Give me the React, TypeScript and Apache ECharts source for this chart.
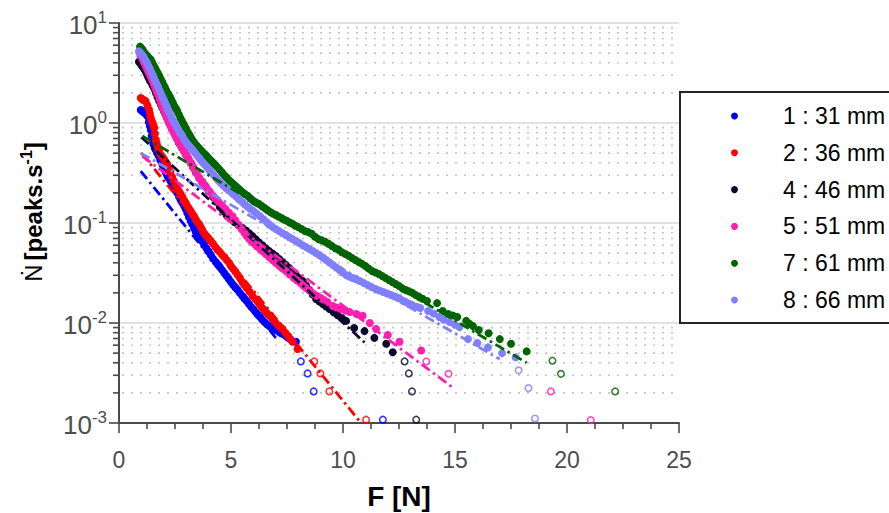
import React, { useEffect, useRef } from "react";
import * as echarts from "echarts";

const FONT = '"Liberation Sans", Arial, Helvetica, sans-serif';

const seriesNames = ["1 : 31 mm", "2 : 36 mm", "4 : 46 mm", "5 : 51 mm", "7 : 61 mm", "8 : 66 mm"];
const seriesColors = ["#0000ff", "#ff0000", "#0a0a30", "#ff1fae", "#006400", "#8080ff"];

// [F (N), Ndot (peaks/s)]
const s1 = [
  [0.97, 1.35], [1.05, 1.31], [1.12, 1.27], [1.2, 1.22], [1.27, 1.17], [1.33, 1.02], [1.38, 0.93], [1.42, 0.85],
  [1.46, 0.74], [1.49, 0.68], [1.53, 0.63], [1.56, 0.6], [1.6, 0.56], [1.64, 0.54], [1.7, 0.5], [1.77, 0.47],
  [1.84, 0.43], [1.9, 0.4], [1.97, 0.37], [2.03, 0.34], [2.1, 0.315], [2.16, 0.295], [2.23, 0.28], [2.3, 0.263],
  [2.38, 0.245], [2.45, 0.229], [2.52, 0.214], [2.6, 0.2], [2.68, 0.184], [2.75, 0.17], [2.83, 0.159], [2.91, 0.148],
  [2.98, 0.137], [3.05, 0.126], [3.12, 0.115], [3.2, 0.105], [3.27, 0.097], [3.35, 0.089], [3.42, 0.082], [3.5, 0.076],
  [3.6, 0.071], [3.7, 0.066], [3.8, 0.061], [3.9, 0.056], [4.0, 0.052], [4.1, 0.0479], [4.2, 0.044], [4.32, 0.0407],
  [4.41, 0.0385], [4.5, 0.0363], [4.6, 0.034], [4.7, 0.0316], [4.8, 0.0295], [4.9, 0.0275], [5.0, 0.0257], [5.1, 0.024],
  [5.2, 0.0226], [5.3, 0.0214], [5.4, 0.0199], [5.51, 0.0186], [5.6, 0.0176], [5.7, 0.0166], [5.8, 0.0155], [5.9, 0.0145],
  [6.0, 0.0137], [6.1, 0.0129], [6.2, 0.0121], [6.3, 0.0115], [6.4, 0.0108], [6.5, 0.0102], [6.6, 0.0097], [6.71, 0.0093],
  [6.8, 0.009], [6.9, 0.0087], [7.0, 0.0085], [7.1, 0.0083], [7.2, 0.008], [7.3, 0.0078], [7.45, 0.0074], [7.55, 0.0071],
  [7.65, 0.0069], [7.9, 0.0065],
];
const s2 = [
  [0.97, 1.78], [1.03, 1.74], [1.08, 1.7], [1.14, 1.68], [1.19, 1.65], [1.27, 1.5], [1.34, 1.36], [1.38, 1.24],
  [1.42, 1.12], [1.46, 1.05], [1.5, 1.0], [1.54, 0.94], [1.57, 0.89], [1.6, 0.78], [1.64, 0.68], [1.68, 0.63],
  [1.71, 0.585], [1.78, 0.53], [1.86, 0.483], [1.93, 0.46], [2.01, 0.437], [2.08, 0.41], [2.15, 0.39], [2.22, 0.355],
  [2.3, 0.324], [2.37, 0.29], [2.45, 0.263], [2.53, 0.24], [2.61, 0.219], [2.68, 0.207], [2.75, 0.195], [2.83, 0.182],
  [2.9, 0.17], [2.98, 0.159], [3.05, 0.148], [3.12, 0.14], [3.2, 0.132], [3.27, 0.124], [3.35, 0.117], [3.42, 0.109],
  [3.5, 0.102], [3.58, 0.097], [3.65, 0.091], [3.72, 0.085], [3.8, 0.079], [3.88, 0.075], [3.95, 0.072], [4.02, 0.069],
  [4.1, 0.066], [4.2, 0.062], [4.3, 0.0575], [4.4, 0.054], [4.5, 0.0513], [4.6, 0.048], [4.7, 0.0457], [4.81, 0.0425],
  [4.92, 0.0398], [5.0, 0.037], [5.1, 0.0347], [5.2, 0.0325], [5.3, 0.0302], [5.4, 0.028], [5.5, 0.0257], [5.6, 0.024],
  [5.7, 0.0224], [5.83, 0.0205], [5.96, 0.0186], [6.08, 0.0174], [6.2, 0.0162], [6.3, 0.0151], [6.4, 0.0141], [6.5, 0.0133],
  [6.6, 0.0126], [6.72, 0.0118], [6.85, 0.011], [6.97, 0.0102], [7.1, 0.0095], [7.2, 0.0091], [7.3, 0.0087], [7.42, 0.008],
  [7.55, 0.0074], [7.65, 0.0069], [7.75, 0.0065], [7.97, 0.0055],
];
const s4 = [
  [0.89, 4.1], [0.95, 3.95], [1.0, 3.8], [1.05, 3.68], [1.1, 3.55], [1.15, 3.4], [1.2, 3.24], [1.26, 3.02],
  [1.32, 2.82], [1.38, 2.66], [1.45, 2.51], [1.51, 2.35], [1.58, 2.19], [1.65, 1.99], [1.72, 1.82], [1.79, 1.68],
  [1.86, 1.55], [1.93, 1.43], [2.0, 1.32], [2.07, 1.22], [2.15, 1.12], [2.22, 1.03], [2.3, 0.955], [2.37, 0.88],
  [2.45, 0.81], [2.52, 0.75], [2.6, 0.69], [2.67, 0.64], [2.75, 0.6], [2.82, 0.56], [2.9, 0.525], [3.0, 0.48],
  [3.1, 0.437], [3.2, 0.4], [3.3, 0.363], [3.44, 0.32], [3.58, 0.282], [3.71, 0.258], [3.85, 0.234], [4.02, 0.207],
  [4.2, 0.182], [4.35, 0.163], [4.5, 0.145], [4.65, 0.132], [4.8, 0.12], [4.97, 0.111], [5.15, 0.102], [5.33, 0.095],
  [5.51, 0.089], [5.66, 0.084], [5.81, 0.079], [5.95, 0.074], [6.1, 0.069], [6.25, 0.064], [6.4, 0.06], [6.55, 0.056],
  [6.7, 0.0525], [6.85, 0.0495], [7.0, 0.0468], [7.15, 0.0437], [7.3, 0.0407], [7.45, 0.038], [7.6, 0.0355], [7.75, 0.0327],
  [7.9, 0.03], [8.05, 0.028], [8.2, 0.0263], [8.35, 0.0237], [8.5, 0.0214], [8.65, 0.0193], [8.8, 0.0174], [8.95, 0.0164],
  [9.1, 0.0155], [9.25, 0.0146], [9.4, 0.0138], [9.58, 0.0128], [9.75, 0.012], [9.95, 0.0112], [10.14, 0.0105], [10.5, 0.0089],
  [10.96, 0.0083], [11.4, 0.0071], [11.93, 0.0062], [12.22, 0.0051],
];
const s5 = [
  [0.95, 4.8], [1.0, 4.6], [1.05, 4.37], [1.1, 4.12], [1.15, 3.9], [1.21, 3.62], [1.27, 3.39], [1.33, 3.2],
  [1.38, 3.02], [1.44, 2.82], [1.5, 2.63], [1.56, 2.42], [1.62, 2.24], [1.68, 2.05], [1.75, 1.9], [1.81, 1.74],
  [1.88, 1.58], [1.94, 1.46], [2.0, 1.35], [2.06, 1.25], [2.12, 1.15], [2.18, 1.07], [2.24, 1.0], [2.3, 0.93],
  [2.36, 0.87], [2.42, 0.82], [2.48, 0.78], [2.54, 0.73], [2.6, 0.69], [2.67, 0.645], [2.75, 0.6], [2.82, 0.56],
  [2.9, 0.525], [2.97, 0.49], [3.05, 0.457], [3.12, 0.43], [3.2, 0.4], [3.29, 0.37], [3.38, 0.34], [3.48, 0.31],
  [3.58, 0.282], [3.68, 0.263], [3.78, 0.245], [3.88, 0.229], [3.98, 0.214], [4.09, 0.2], [4.2, 0.186], [4.32, 0.174],
  [4.45, 0.162], [4.6, 0.15], [4.75, 0.138], [4.91, 0.127], [5.07, 0.117], [5.2, 0.106], [5.35, 0.0955], [5.47, 0.087],
  [5.6, 0.0794], [5.7, 0.074], [5.81, 0.069], [5.93, 0.065], [6.05, 0.0617], [6.17, 0.058], [6.3, 0.055], [6.42, 0.052],
  [6.55, 0.049], [6.7, 0.0458], [6.85, 0.0427], [7.0, 0.0398], [7.16, 0.0372], [7.3, 0.035], [7.45, 0.0331], [7.62, 0.0305],
  [7.8, 0.0282], [7.95, 0.0266], [8.1, 0.0251], [8.22, 0.0237], [8.35, 0.0224], [8.52, 0.021], [8.7, 0.0195], [8.85, 0.0186],
  [9.0, 0.0178], [9.15, 0.017], [9.3, 0.0162], [9.54, 0.0148], [9.7, 0.0143], [9.9, 0.0138], [10.1, 0.0133], [10.3, 0.0129],
  [10.6, 0.0123], [10.88, 0.0118], [11.2, 0.01], [11.48, 0.0087], [12.0, 0.0076], [12.52, 0.0065], [13.49, 0.0053],
];
const s7 = [
  [0.94, 5.8], [1.0, 5.6], [1.05, 5.4], [1.1, 5.2], [1.15, 5.0], [1.22, 4.8], [1.28, 4.6], [1.35, 4.45],
  [1.42, 4.3], [1.48, 4.02], [1.55, 3.76], [1.62, 3.52], [1.68, 3.3], [1.74, 3.12], [1.8, 2.95], [1.86, 2.75],
  [1.93, 2.57], [1.99, 2.4], [2.05, 2.26], [2.12, 2.1], [2.2, 1.95], [2.27, 1.83], [2.33, 1.72], [2.4, 1.6],
  [2.47, 1.48], [2.54, 1.4], [2.6, 1.32], [2.67, 1.22], [2.74, 1.12], [2.81, 1.05], [2.88, 0.98], [2.94, 0.92],
  [3.0, 0.87], [3.07, 0.81], [3.15, 0.76], [3.22, 0.71], [3.3, 0.66], [3.37, 0.63], [3.45, 0.6], [3.52, 0.575],
  [3.6, 0.55], [3.69, 0.525], [3.78, 0.5], [3.87, 0.478], [3.95, 0.457], [4.03, 0.437], [4.12, 0.417], [4.21, 0.398],
  [4.3, 0.38], [4.4, 0.36], [4.5, 0.34], [4.6, 0.32], [4.7, 0.3], [4.8, 0.285], [4.9, 0.27], [5.0, 0.257],
  [5.1, 0.245], [5.2, 0.234], [5.3, 0.224], [5.4, 0.214], [5.5, 0.204], [5.62, 0.195], [5.75, 0.186], [5.87, 0.176],
  [6.0, 0.166], [6.12, 0.16], [6.25, 0.155], [6.37, 0.148], [6.5, 0.141], [6.62, 0.135], [6.75, 0.129], [6.87, 0.124],
  [7.0, 0.12], [7.12, 0.116], [7.25, 0.112], [7.37, 0.108], [7.5, 0.105], [7.62, 0.101], [7.75, 0.098], [7.87, 0.094],
  [8.0, 0.091], [8.15, 0.087], [8.3, 0.083], [8.45, 0.081], [8.6, 0.078], [8.75, 0.073], [8.9, 0.069], [9.05, 0.067],
  [9.2, 0.065], [9.35, 0.062], [9.5, 0.059], [9.65, 0.056], [9.8, 0.054], [9.95, 0.051], [10.1, 0.049], [10.25, 0.047],
  [10.4, 0.0447], [10.55, 0.0427], [10.7, 0.0407], [10.85, 0.039], [11.0, 0.0372], [11.15, 0.035], [11.3, 0.0331], [11.45, 0.032],
  [11.6, 0.0309], [11.75, 0.0295], [11.9, 0.0282], [12.05, 0.0269], [12.2, 0.0257], [12.35, 0.0245], [12.5, 0.0234], [12.65, 0.0222],
  [12.8, 0.0214], [12.95, 0.0207], [13.1, 0.02], [13.25, 0.019], [13.4, 0.0182], [13.55, 0.0175], [13.75, 0.0166], [14.2, 0.0158],
  [14.45, 0.0132], [14.7, 0.0123], [14.9, 0.0119], [15.1, 0.0115], [15.5, 0.0105], [15.65, 0.0098], [15.8, 0.0093], [16.06, 0.0085],
  [16.5, 0.0079], [17.0, 0.0069], [17.5, 0.0062], [18.2, 0.0052],
];
const s8 = [
  [0.89, 5.2], [0.95, 5.05], [1.0, 4.9], [1.06, 4.7], [1.12, 4.47], [1.18, 4.22], [1.25, 3.98], [1.31, 3.72],
  [1.38, 3.47], [1.44, 3.24], [1.5, 3.02], [1.56, 2.82], [1.62, 2.63], [1.68, 2.45], [1.75, 2.29], [1.81, 2.11],
  [1.88, 1.95], [1.94, 1.82], [2.0, 1.7], [2.06, 1.58], [2.12, 1.48], [2.18, 1.36], [2.25, 1.26], [2.31, 1.18],
  [2.37, 1.1], [2.43, 1.04], [2.5, 0.98], [2.57, 0.91], [2.65, 0.85], [2.72, 0.8], [2.8, 0.76], [2.87, 0.71],
  [2.95, 0.66], [3.02, 0.63], [3.1, 0.6], [3.17, 0.575], [3.25, 0.55], [3.32, 0.525], [3.4, 0.5], [3.49, 0.472],
  [3.58, 0.447], [3.66, 0.422], [3.75, 0.4], [3.85, 0.377], [3.95, 0.355], [4.05, 0.335], [4.15, 0.316], [4.25, 0.298],
  [4.35, 0.28], [4.45, 0.265], [4.55, 0.25], [4.66, 0.237], [4.77, 0.224], [4.88, 0.214], [5.0, 0.204], [5.12, 0.193],
  [5.25, 0.182], [5.37, 0.172], [5.5, 0.162], [5.62, 0.153], [5.75, 0.145], [5.87, 0.138], [6.0, 0.132], [6.15, 0.124],
  [6.3, 0.117], [6.45, 0.109], [6.6, 0.102], [6.73, 0.096], [6.86, 0.091], [7.0, 0.087], [7.15, 0.083], [7.3, 0.079],
  [7.45, 0.076], [7.6, 0.072], [7.75, 0.069], [7.9, 0.066], [8.05, 0.063], [8.2, 0.06], [8.35, 0.0575], [8.5, 0.055],
  [8.65, 0.0525], [8.8, 0.05], [8.94, 0.0479], [9.1, 0.0452], [9.25, 0.0427], [9.4, 0.0402], [9.55, 0.038], [9.7, 0.0358],
  [9.85, 0.0339], [10.0, 0.0318], [10.15, 0.03], [10.3, 0.029], [10.43, 0.0282], [10.6, 0.0272], [10.75, 0.0263], [10.93, 0.0251],
  [11.1, 0.024], [11.27, 0.0229], [11.45, 0.0219], [11.62, 0.0211], [11.8, 0.0204], [11.97, 0.0197], [12.15, 0.019], [12.32, 0.0184],
  [12.5, 0.0178], [12.67, 0.0168], [12.8, 0.0162], [12.95, 0.0156], [13.1, 0.0151], [13.3, 0.0145], [13.45, 0.0141], [13.8, 0.0132],
  [14.05, 0.0124], [14.3, 0.0115], [14.5, 0.0108], [14.76, 0.0102], [15.0, 0.0096], [15.2, 0.0091], [15.58, 0.0069], [16.0, 0.0063],
  [16.47, 0.0057], [17.1, 0.005], [17.71, 0.00453],
];

// single-event tail points (open circles)
const t1 = [[8.12, 0.00413], [8.42, 0.00313], [8.69, 0.00207], [11.78, 0.00108]];
const t2 = [[8.72, 0.00413], [8.99, 0.00313], [9.39, 0.00207], [11.03, 0.00108]];
const t4 = [[12.75, 0.00413], [12.94, 0.00313], [13.08, 0.00207], [13.27, 0.00108]];
const t5 = [[13.72, 0.00413], [14.71, 0.0031], [19.28, 0.00207], [21.06, 0.00107]];
const t7 = [[19.35, 0.0042], [19.73, 0.0031], [22.15, 0.00207]];
const t8 = [[17.84, 0.00336], [18.28, 0.00223], [18.57, 0.00111]];

// fitted exponential laws (end points)
const f1 = [[0.97, 0.33], [7.0, 0.0071]];
const f2 = [[1.0, 0.5], [10.73, 0.00105]];
const f4 = [[1.0, 0.72], [10.96, 0.0064]];
const f5 = [[1.04, 0.466], [14.95, 0.00222]];
const f7 = [[1.04, 0.74], [18.2, 0.004]];
const f8 = [[0.97, 0.5], [17.0, 0.00435]];

const xTicks = [0, 5, 10, 15, 20, 25];
const yMinorTicks = [
  0.002, 0.003, 0.004, 0.005, 0.006, 0.007, 0.008, 0.009,
  0.02, 0.03, 0.04, 0.05, 0.06, 0.07, 0.08, 0.09,
  0.2, 0.3, 0.4, 0.5, 0.6, 0.7, 0.8, 0.9,
  2, 3, 4, 5, 6, 7, 8, 9,
];

const mainData = [s1, s2, s4, s5, s7, s8];
const tailData = [t1, t2, t4, t5, t7, t8];
const fitData = [f1, f2, f4, f5, f7, f8];

const AXIS_COLOR = "#4a4a4a";
const LABEL_COLOR = "#4d4d4d";

export default function App() {
  const ref = useRef<HTMLDivElement>(null);
  useEffect(() => {
    if (!ref.current) return;
    const chart = echarts.init(ref.current, undefined, { renderer: "svg" });
    const series: any[] = [];
    series.push({
      name: "minorGrid",
      type: "custom",
      clip: false,
      z: 1,
      silent: true,
      data: yMinorTicks.map((v) => [0, v]),
      encode: { x: 0, y: 1 },
      renderItem: (params: any, api: any) => {
        const v = api.value(1);
        const p0 = api.coord([xTicks[0], v]);
        const p1 = api.coord([xTicks[xTicks.length - 1], v]);
        return {
          type: "group",
          children: [
            {
              type: "line",
              shape: { x1: p0[0] + 3, y1: p0[1], x2: p1[0], y2: p1[1] },
              style: { stroke: "#c4c4c4", lineWidth: 1.6, lineDash: [2, 7] },
            },
            {
              type: "line",
              shape: { x1: p0[0] - 6, y1: p0[1], x2: p0[0], y2: p0[1] },
              style: { stroke: AXIS_COLOR, lineWidth: 1.6 },
            },
          ],
        };
      },
    });
    mainData.forEach((d, i) => {
      series.push({
        name: seriesNames[i],
        type: "scatter",
        data: d,
        symbol: "circle",
        symbolSize: 8,
        itemStyle: { color: seriesColors[i], opacity: 1 },
        z: 3,
      });
    });
    tailData.forEach((d, i) => {
      series.push({
        name: seriesNames[i] + " tail",
        type: "scatter",
        data: d,
        symbol: "circle",
        symbolSize: 6.5,
        itemStyle: { color: "rgba(255,255,255,0)", borderColor: seriesColors[i], borderWidth: 1.6 },
        z: 3,
      });
    });
    fitData.forEach((d, i) => {
      series.push({
        name: seriesNames[i] + " fit",
        type: "line",
        data: d,
        symbol: "none",
        lineStyle: { color: seriesColors[i], width: 2.8, type: [10, 4, 2.5, 4] },
        z: 4,
      });
    });

    chart.setOption({
      animation: false,
      backgroundColor: "#ffffff",
      textStyle: { fontFamily: FONT },
      grid: { left: 119, right: 210, top: 23, bottom: 90, containLabel: false, outerBoundsMode: "none" },
      legend: {
        data: seriesNames,
        orient: "vertical",
        left: 680,
        top: 92,
        icon: "circle",
        itemWidth: 7,
        itemHeight: 7,
        itemGap: 10.8,
        padding: [11, 20, 10, 51],
        backgroundColor: "#ffffff",
        borderColor: "#262626",
        borderWidth: 2,
        borderRadius: 0,
        selectedMode: false,
        textStyle: { fontFamily: FONT, fontSize: 23, color: "#000000", lineHeight: 26, padding: [0, 0, 0, 40] },
      },
      xAxis: {
        type: "value",
        min: xTicks[0],
        max: xTicks[xTicks.length - 1],
        interval: 5,
        name: "F [N]",
        nameLocation: "middle",
        nameGap: 59,
        nameTextStyle: { fontFamily: FONT, fontSize: 28, fontWeight: "bold", color: "#000000" },
        axisLine: { show: true, onZero: false, lineStyle: { color: AXIS_COLOR, width: 2 } },
        axisTick: { show: true, inside: false, length: 10, lineStyle: { color: AXIS_COLOR, width: 1.6 } },
        minorTick: { show: true, splitNumber: 4, length: 6, lineStyle: { color: AXIS_COLOR, width: 1.6 } },
        axisLabel: { margin: 25, fontFamily: FONT, fontSize: 23, color: LABEL_COLOR },
        splitLine: { show: false },
        minorSplitLine: { show: false },
      },
      yAxis: {
        type: "log",
        logBase: 10,
        min: 0.001,
        max: 10,
        name: "{n|Ṅ}{b|[peaks.s}{s|-1}{b|]}",
        nameLocation: "middle",
        nameGap: 74,
        nameTextStyle: {
          fontFamily: FONT,
          fontSize: 24,
          color: "#000000",
          padding: [0, 0, 0, 22],
          rich: {
            n: { fontFamily: FONT, fontSize: 24, color: "#000000", verticalAlign: "bottom", padding: [0, 4, 0, 0] },
            b: { fontFamily: FONT, fontSize: 24, fontWeight: "bold", color: "#000000", verticalAlign: "bottom" },
            s: { fontFamily: FONT, fontSize: 16, fontWeight: "bold", color: "#000000", verticalAlign: "bottom", padding: [0, 0, 11, 0] },
          },
        },
        axisLine: { show: true, onZero: false, lineStyle: { color: AXIS_COLOR, width: 2 } },
        axisTick: { show: true, inside: false, length: 10, lineStyle: { color: AXIS_COLOR, width: 1.6 } },
        minorTick: { show: false },
        axisLabel: {
          margin: 12,
          formatter: (v: number) => "{b|10}{s|" + Math.round(Math.log10(v)) + "}",
          rich: {
            b: { fontFamily: FONT, fontSize: 26, color: LABEL_COLOR, verticalAlign: "bottom" },
            s: { fontFamily: FONT, fontSize: 17, color: LABEL_COLOR, verticalAlign: "bottom", padding: [0, 0, 12, 0] },
          },
        },
        splitLine: { show: true, lineStyle: { color: "#e2e2e2", width: 2 } },
        minorSplitLine: { show: false },
      },
      series,
    });
    return () => chart.dispose();
  }, []);
  return <div ref={ref} style={{ position: "fixed", left: 0, top: 0, width: 889, height: 513 }} />;
}
